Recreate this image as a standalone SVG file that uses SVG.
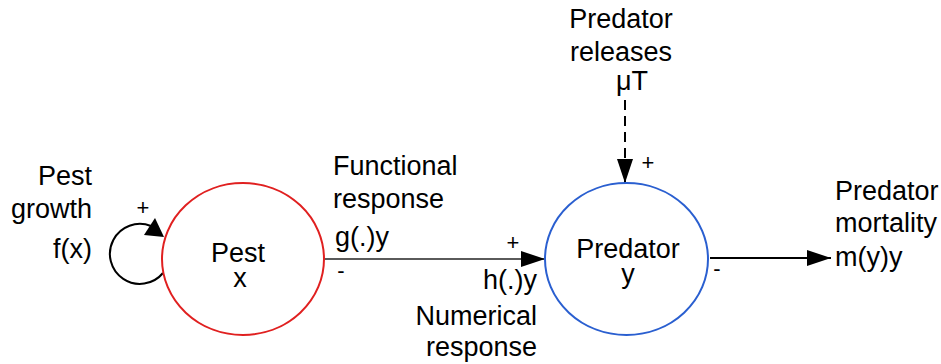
<svg xmlns="http://www.w3.org/2000/svg" width="941" height="364" viewBox="0 0 941 364">
<style>
text{font-family:"Liberation Sans",Arial,sans-serif;font-size:27px;fill:#000}
.s{font-size:22px}
.m{text-anchor:middle}
.e{text-anchor:end}
.c{stroke:#000;stroke-width:2;fill:none}
</style>
<defs>
<marker id="ah" viewBox="0 0 24 16" refX="24" refY="8" markerWidth="24" markerHeight="16" markerUnits="userSpaceOnUse" orient="auto">
<path d="M0,0 L24,8 L0,16 Z" fill="#000"/>
</marker>
</defs>
<rect width="941" height="364" fill="#fff"/>
<g id="connectors">
<path class="c" d="M163,273 A30,30 0 1 1 151,226"/>
<path d="M144,235 L155,218 L164,237 Z" fill="#000"/>
<line x1="324" y1="259" x2="545" y2="259" stroke="#5a5a5a" stroke-width="2" marker-end="url(#ah)"/>
<line x1="625" y1="100" x2="625" y2="183" class="c" stroke-dasharray="10 6" marker-end="url(#ah)"/>
<line x1="710" y1="258" x2="831" y2="258" class="c" marker-end="url(#ah)"/>
</g>
<g id="pest">
<ellipse cx="243" cy="259" rx="81" ry="76" fill="#fff" stroke="#e02020" stroke-width="2"/>
<text x="238" y="262" class="m">Pest</text>
<text x="240" y="287" class="m">x</text>
</g>
<g id="predator">
<ellipse cx="626.5" cy="259" rx="81.5" ry="76" fill="#fff" stroke="#2a5fd0" stroke-width="2"/>
<text x="628" y="258" class="m">Predator</text>
<text x="628" y="283" class="m">y</text>
</g>
<g id="labels">
<text x="92" y="185" class="e">Pest</text>
<text x="92" y="218" class="e">growth</text>
<text x="92" y="258" class="e">f(x)</text>
<text x="143" y="215" class="s m">+</text>
<text x="333" y="175">Functional</text>
<text x="333" y="208">response</text>
<text x="335" y="246">g(.)y</text>
<text x="341" y="278" class="s m">-</text>
<text x="513" y="250" class="s m">+</text>
<text x="537" y="289" class="e">h(.)y</text>
<text x="537" y="325" class="e">Numerical</text>
<text x="537" y="356" class="e">response</text>
<text x="621" y="28" class="m">Predator</text>
<text x="621" y="61" class="m">releases</text>
<text x="632" y="90" class="m">μT</text>
<text x="648" y="170" class="s m">+</text>
<text x="835" y="200">Predator</text>
<text x="835" y="232">mortality</text>
<text x="835" y="266">m(y)y</text>
<text x="717" y="276" class="s m">-</text>
</g>
</svg>
